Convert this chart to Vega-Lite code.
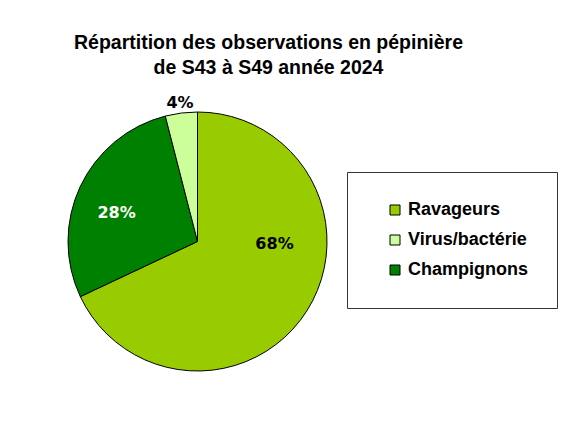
{
  "$schema": "https://vega.github.io/schema/vega-lite/v6.json",
  "autosize": "none",
  "width": 259,
  "height": 259,
  "padding": {"left": 68, "top": 112, "right": 244, "bottom": 59},
  "background": "white",
  "config": {"view": {"stroke": null}},
  "title": {
    "text": ["Répartition des observations en pépinière", "de S43 à S49 année 2024"],
    "font": "Liberation Sans",
    "fontSize": 19.5,
    "fontWeight": "bold",
    "color": "black",
    "anchor": "middle",
    "dx": 71,
    "offset": 16,
    "lineHeight": 25
  },
  "data": {
    "values": [
      {"categorie": "Ravageurs", "pct": 68, "label": "68%", "ord": 1},
      {"categorie": "Champignons", "pct": 28, "label": "28%", "ord": 2},
      {"categorie": "Virus/bactérie", "pct": 4, "label": "4%", "ord": 3}
    ]
  },
  "encoding": {
    "theta": {"field": "pct", "type": "quantitative", "stack": true},
    "order": {"field": "ord", "type": "quantitative"}
  },
  "layer": [
    {
      "mark": {"type": "arc", "stroke": "black", "strokeWidth": 1},
      "encoding": {
        "color": {
          "field": "categorie",
          "type": "nominal",
          "sort": ["Ravageurs", "Virus/bactérie", "Champignons"],
          "scale": {
            "domain": ["Ravageurs", "Virus/bactérie", "Champignons"],
            "range": ["#99CC00", "#CCFF99", "#008000"]
          },
          "legend": {
            "title": null,
            "orient": "none",
            "legendX": 279,
            "legendY": 60,
            "direction": "vertical",
            "symbolType": "square",
            "symbolSize": 100,
            "symbolStrokeColor": "black",
            "symbolStrokeWidth": 1,
            "labelFont": "Liberation Sans",
            "labelFontSize": 18,
            "labelFontWeight": "bold",
            "labelColor": "black",
            "labelOffset": 4,
            "rowPadding": 12,
            "padding": 29,
            "symbolOffset": 10,
            "strokeColor": "#333333",
            "fillColor": "white"
          }
        }
      }
    },
    {
      "mark": {"type": "text", "radius": 85, "dx": -4, "dy": 8, "font": "DejaVu Sans", "fontSize": 16, "fontWeight": "bold", "fill": "white"},
      "encoding": {
        "text": {"condition": {"test": "datum.categorie === 'Champignons'", "field": "label"}, "value": ""}
      }
    },
    {
      "mark": {"type": "text", "radius": 140, "font": "DejaVu Sans", "fontSize": 16, "fontWeight": "bold", "fill": "black"},
      "encoding": {
        "text": {"condition": {"test": "datum.categorie === 'Virus/bactérie'", "field": "label"}, "value": ""}
      }
    },
    {
      "mark": {"type": "text", "radius": 77, "dx": 12, "dy": -39, "font": "DejaVu Sans", "fontSize": 16, "fontWeight": "bold", "fill": "black"},
      "encoding": {
        "text": {"condition": {"test": "datum.categorie === 'Ravageurs'", "field": "label"}, "value": ""}
      }
    }
  ]
}
